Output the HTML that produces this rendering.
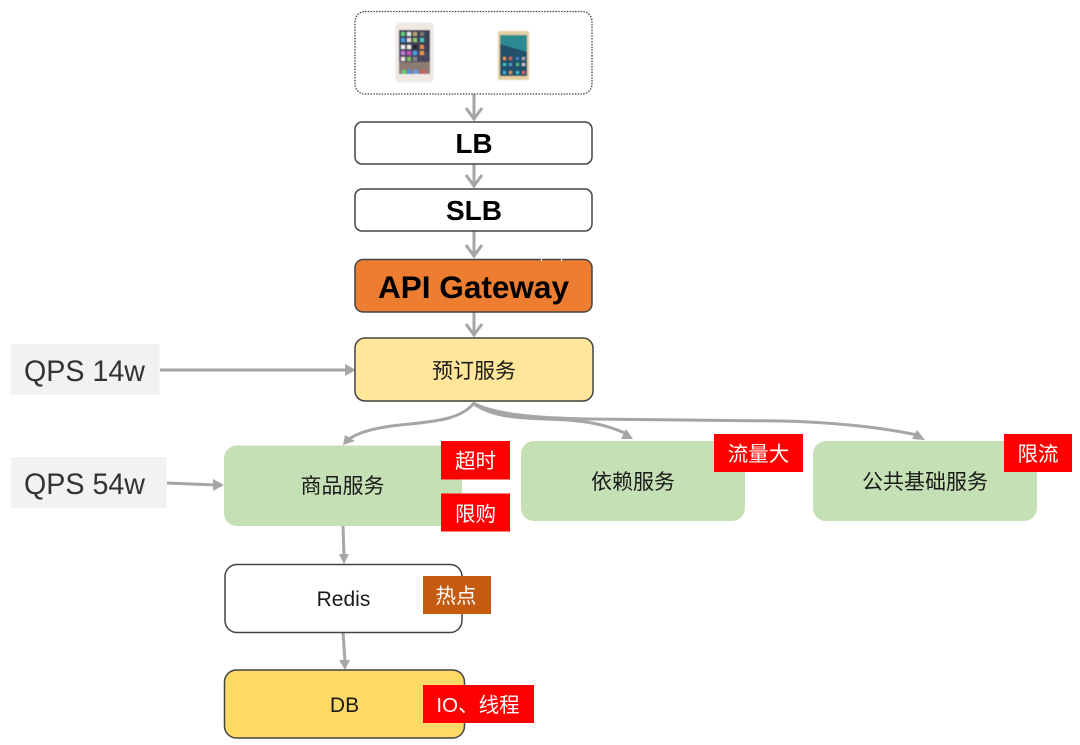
<!DOCTYPE html>
<html><head><meta charset="utf-8"><style>
html,body{margin:0;padding:0;background:#fff}
svg{display:block}
text{font-family:"Liberation Sans","Noto Sans CJK SC",sans-serif;text-anchor:middle}
.c{font-size:21px;fill:#1a1a1a}
.w{font-size:20.5px;fill:#fff}
.b{font-weight:bold;fill:#000}
.q{font-size:30px;fill:#333;text-anchor:start}
.a{fill:none;stroke:#a6a6a6;stroke-width:3}
.h{fill:#a6a6a6}
.n{stroke:#444;stroke-width:1.5}
</style></head><body>
<svg width="1080" height="745" viewBox="0 0 1080 745" xmlns="http://www.w3.org/2000/svg">
<defs><filter id="s" x="-10%" y="-10%" width="120%" height="120%"><feGaussianBlur stdDeviation="0.6"/></filter></defs>
<rect width="1080" height="745" fill="#fff"/>

<!-- connectors -->
<path class="a" d="M474 94V120M466 108L474 119L482 108"/>
<path class="a" d="M474 164V187M466 175L474 186L482 175"/>
<path class="a" d="M474 231V257M466 245L474 256L482 245"/>
<path class="a" d="M474 312V336M466 324L474 335L482 324"/>
<path class="a" d="M160 370H346"/><path class="h" d="M345 364L356 370L345 376Z"/>
<path class="a" d="M167 483L216 485"/><path class="h" d="M213 479L224 485L213 491Z"/>
<path class="a" d="M474 403C462 418 440 421 410 424C385 426 362 430 349 439"/><path class="h" d="M343 445L345 435L355 441Z"/>
<path class="a" d="M473 403C490 416 515 418 545 419C585 420 605 424 627 434"/><path class="h" d="M633 439L626 429L621 439Z"/>
<path class="a" d="M473 403C495 415 540 418 587 419C650 420 720 420 781 421C830 422 880 427 917 435"/><path class="h" d="M925 440L917 430L912 439Z"/>
<path class="a" d="M343 526L344 556"/><path class="h" d="M339 554L349 554L344 564Z"/>
<path class="a" d="M343 632L345 662"/><path class="h" d="M339 660L350 660L345 670Z"/>

<!-- top group -->
<rect x="355" y="11.500" width="237" height="82.500" rx="10" fill="#fff" stroke="#444" stroke-width="1.300" stroke-dasharray="1.500 1.300"/>
<g filter="url(#s)">
<!-- iPhone -->
<rect x="396" y="23" width="37" height="59" rx="4" fill="#efe9e2" stroke="#ddd" stroke-width="0.600"/>
<rect x="399" y="30" width="31" height="44" fill="#4a4660"/>
<rect x="399" y="30" width="31" height="22" fill="#3e3f52"/>
<rect x="399" y="62" width="31" height="12" fill="#8d7a72"/>
<rect x="401" y="32" width="4" height="4" fill="#5fce7a"/><rect x="407" y="32" width="4" height="4" fill="#e8e8e8"/><rect x="413" y="32" width="4" height="4" fill="#b9a36a"/><rect x="420" y="32" width="4" height="4" fill="#777"/>
<rect x="401" y="38" width="4" height="4" fill="#3f9fe0"/><rect x="407" y="38" width="4" height="4" fill="#ddd"/><rect x="413" y="38" width="4" height="4" fill="#8fc66b"/><rect x="420" y="38" width="4" height="4" fill="#4cc0c8"/>
<rect x="401" y="45" width="4" height="4" fill="#eee"/><rect x="407" y="45" width="4" height="4" fill="#eee"/><rect x="413" y="45" width="4" height="4" fill="#222"/><rect x="420" y="45" width="4" height="4" fill="#e08a50"/>
<rect x="401" y="51" width="4" height="4" fill="#c07ad0"/><rect x="407" y="51" width="4" height="4" fill="#d050c0"/><rect x="413" y="51" width="4" height="4" fill="#3fa0e8"/><rect x="420" y="51" width="4" height="4" fill="#e89a40"/>
<rect x="401" y="57" width="4" height="4" fill="#f0e0e0"/><rect x="407" y="57" width="4" height="4" fill="#7cc060"/><rect x="413" y="57" width="4" height="4" fill="#888"/>
<rect x="402" y="70" width="4" height="4" fill="#60d070"/><rect x="408" y="70" width="4" height="4" fill="#4090e0"/><rect x="414" y="70" width="4" height="4" fill="#60a0e8"/><rect x="421" y="70" width="4" height="4" fill="#e85050"/>
<!-- Android phone -->
<rect x="498" y="31" width="31" height="49" rx="2" fill="#e3cf9f"/>
<rect x="500" y="35" width="27" height="41" fill="#23506a"/>
<path d="M500 35H527V52L500 44Z" fill="#2d8a92"/>
<rect x="503" y="57" width="3" height="3" fill="#e8a040"/><rect x="509" y="57" width="3" height="3" fill="#e06040"/><rect x="516" y="57" width="3" height="3" fill="#4080c0"/><rect x="522" y="57" width="3" height="3" fill="#aaa"/>
<rect x="503" y="63" width="3" height="3" fill="#40c0b0"/><rect x="509" y="63" width="3" height="3" fill="#40a0d0"/><rect x="516" y="63" width="3" height="3" fill="#50c070"/><rect x="522" y="63" width="3" height="3" fill="#ccc"/>
<rect x="503" y="71" width="3" height="3" fill="#40b0d0"/><rect x="509" y="71" width="3" height="3" fill="#e09040"/><rect x="516" y="71" width="3" height="3" fill="#40c0d0"/><rect x="522" y="71" width="3" height="3" fill="#e06060"/>
</g>

<!-- stack -->
<rect class="n" x="355" y="122" width="237" height="42" rx="7" fill="#fff"/>
<text class="b" x="474" y="153" font-size="28">LB</text>
<rect class="n" x="355" y="189" width="237" height="42" rx="7" fill="#fff"/>
<text class="b" x="474" y="220" font-size="28">SLB</text>
<rect class="n" x="355" y="259.500" width="237" height="52.500" rx="8" fill="#ed7d31"/>
<text class="b" x="473.500" y="298" font-size="31.500" textLength="191" lengthAdjust="spacingAndGlyphs">API Gateway</text>
<path d="M541 259L542 261M561 261L562 259" stroke="#fff" stroke-width="1"/>
<rect class="n" x="355" y="338" width="238" height="63" rx="10" fill="#ffe699"/>
<text class="c" x="474" y="378">预订服务</text>

<!-- QPS -->
<rect x="11" y="344" width="148.500" height="51" fill="#f2f2f2"/>
<text class="q" x="24" y="381" textLength="121" lengthAdjust="spacingAndGlyphs">QPS 14w</text>
<rect x="11" y="457" width="155.500" height="51" fill="#f2f2f2"/>
<text class="q" x="24" y="494" textLength="121" lengthAdjust="spacingAndGlyphs">QPS 54w</text>

<!-- services -->
<rect x="224" y="445.500" width="238" height="80.500" rx="13" fill="#c5e0b4"/>
<text class="c" x="342.500" y="493">商品服务</text>
<rect x="521" y="441" width="224" height="80" rx="13" fill="#c5e0b4"/>
<text class="c" x="633" y="489">依赖服务</text>
<rect x="813" y="441" width="224" height="80" rx="13" fill="#c5e0b4"/>
<text class="c" x="925" y="489">公共基础服务</text>

<rect class="n" x="225" y="564.500" width="237" height="68" rx="12" fill="#fff"/>
<text class="c" x="343.500" y="606">Redis</text>
<rect class="n" x="224.500" y="670" width="240" height="68" rx="12" fill="#ffd966"/>
<text class="c" x="344.500" y="712">DB</text>

<!-- tags -->
<rect x="441" y="441" width="69" height="38.500" fill="#f00"/>
<text class="w" x="475.500" y="468">超时</text>
<rect x="441" y="493.500" width="69" height="38" fill="#f00"/>
<text class="w" x="475.500" y="521">限购</text>
<rect x="714" y="434" width="89" height="38" fill="#f00"/>
<text class="w" x="758.500" y="461">流量大</text>
<rect x="1004" y="434" width="68" height="38" fill="#f00"/>
<text class="w" x="1038" y="461">限流</text>
<rect x="423" y="576" width="68" height="38" fill="#c55a11"/>
<text class="w" x="456" y="603">热点</text>
<rect x="423" y="685" width="111" height="38" fill="#f00"/>
<text class="w" x="478" y="712">IO、线程</text>
</svg>
</body></html>
